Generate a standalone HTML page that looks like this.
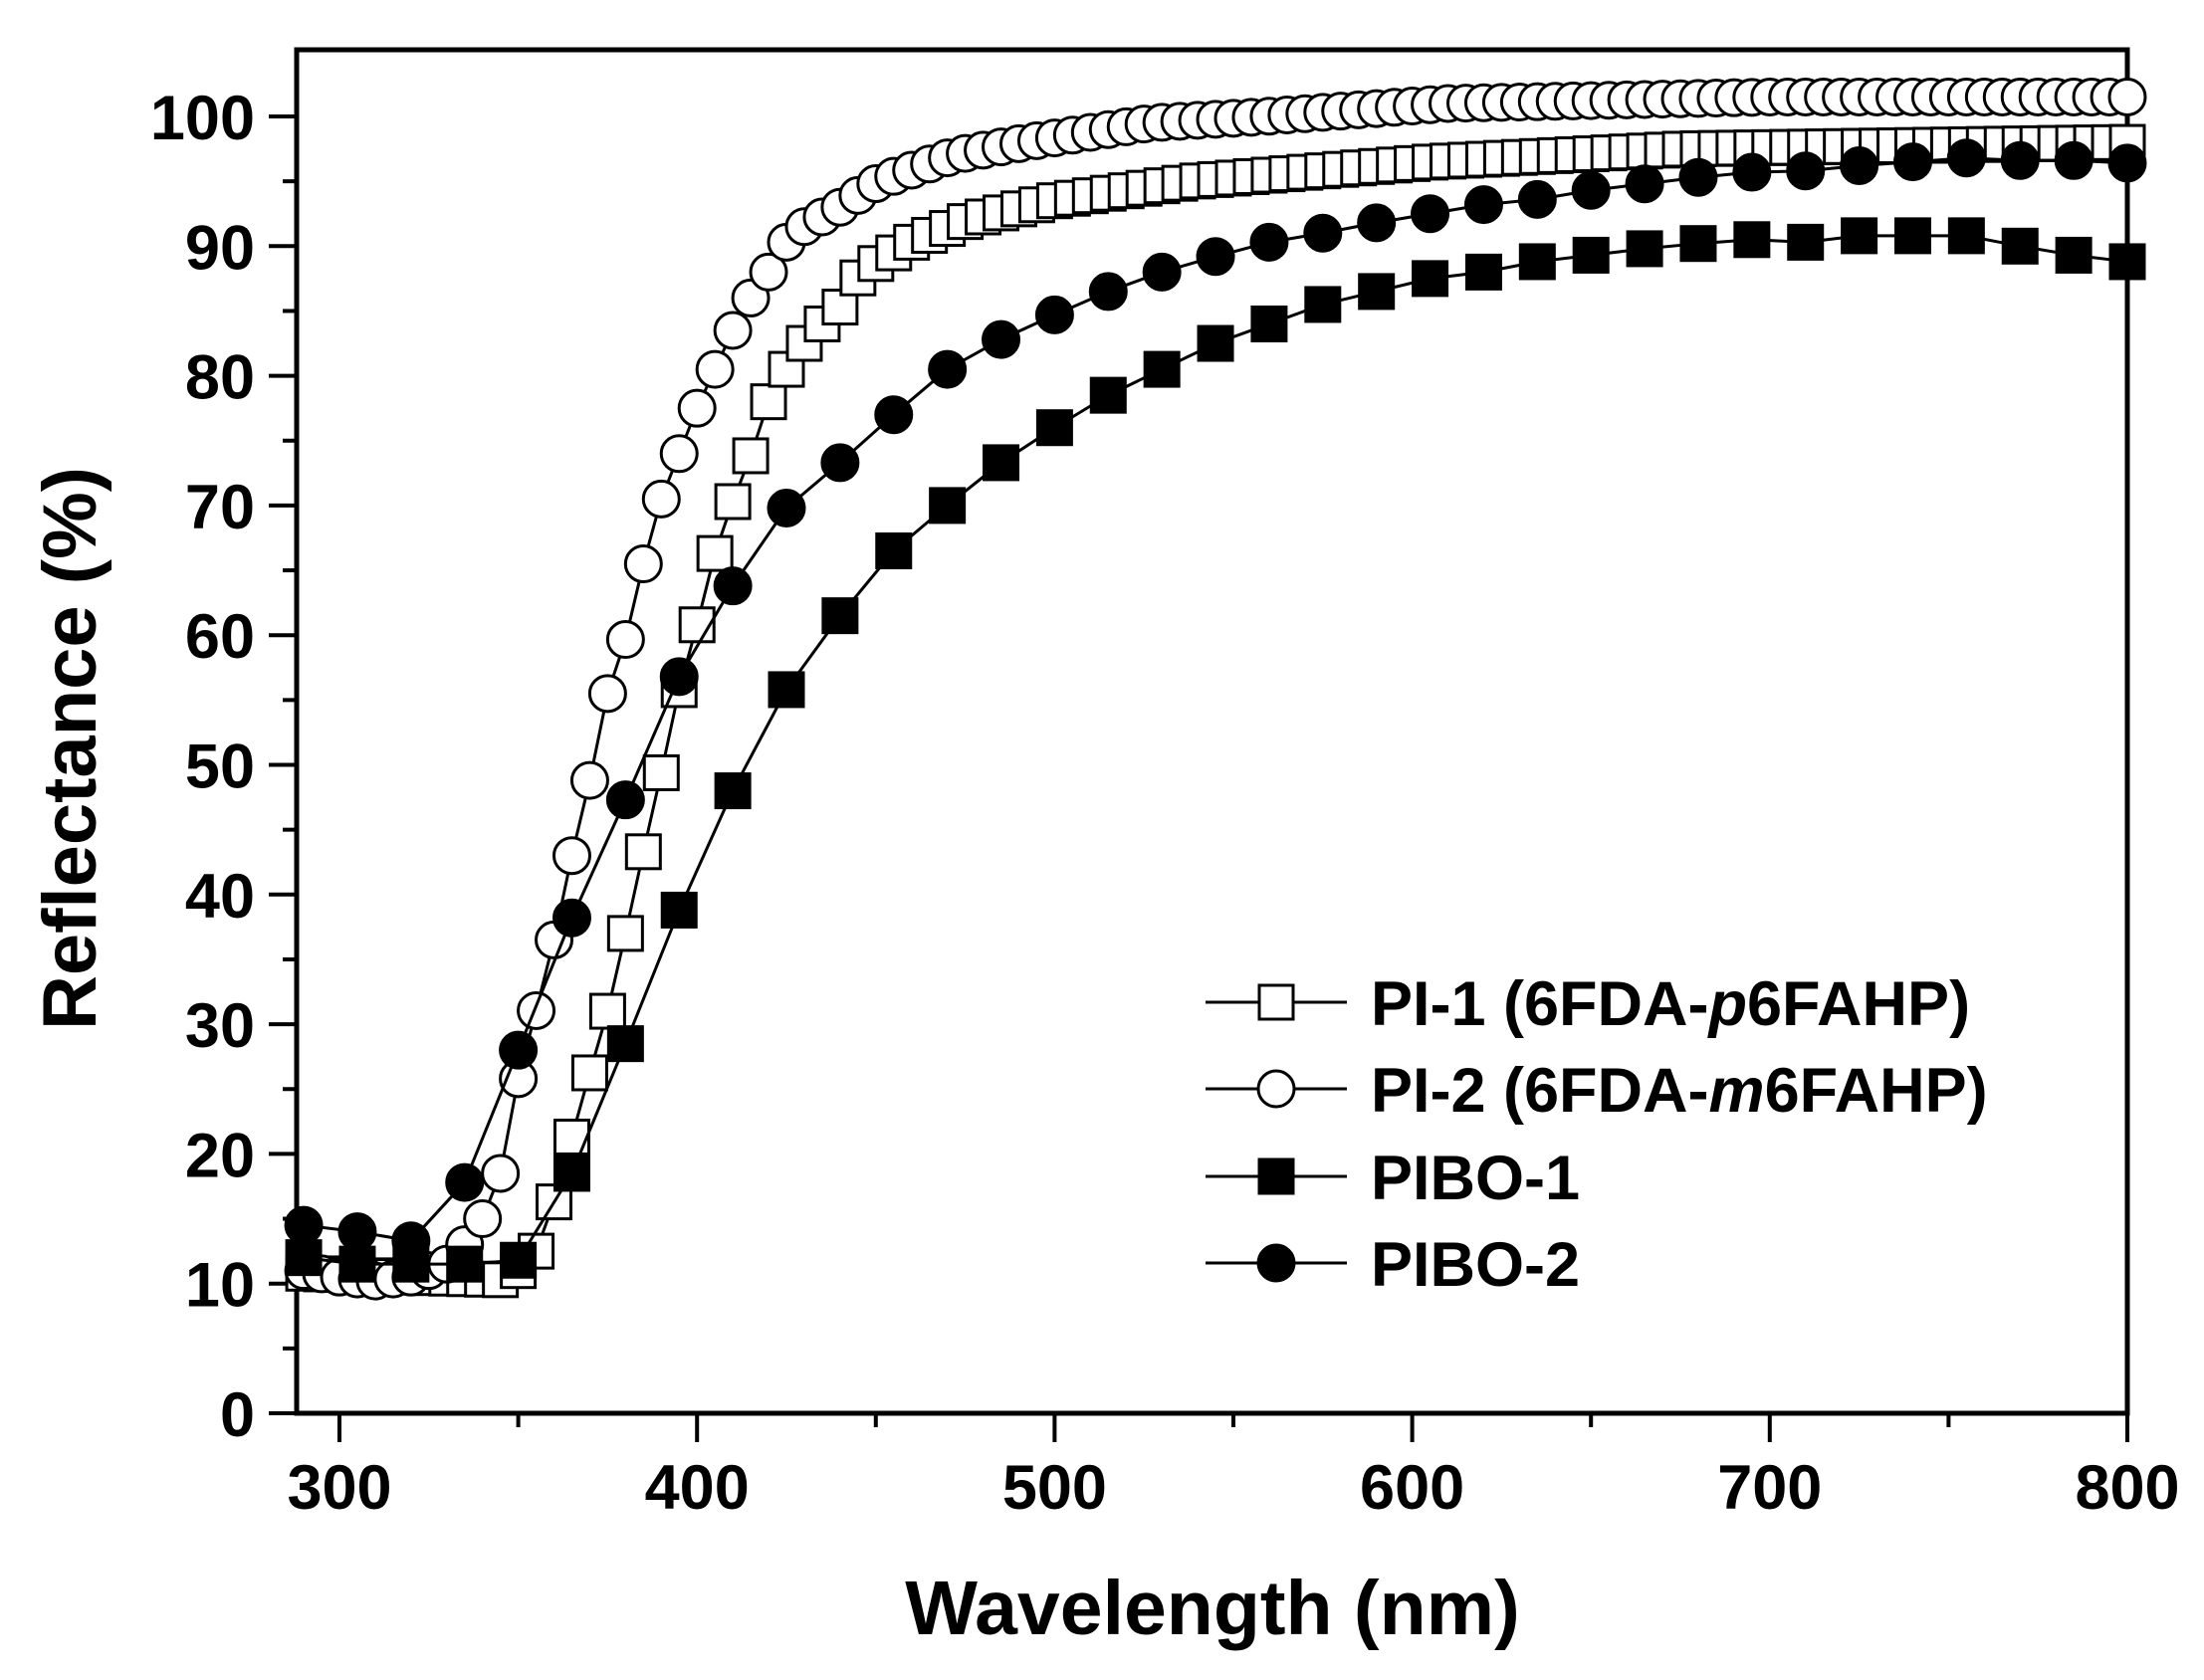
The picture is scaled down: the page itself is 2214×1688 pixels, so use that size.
<!DOCTYPE html>
<html><head><meta charset="utf-8"><style>
body{margin:0;background:#fff;width:2214px;height:1683px;overflow:hidden}
text{font-family:"Liberation Sans",Arial,sans-serif;font-weight:bold;fill:#000}
</style></head><body>
<svg id="s" width="2214" height="1683" xmlns="http://www.w3.org/2000/svg">
<rect x="298" y="50" width="1839" height="1370" fill="none" stroke="#000" stroke-width="5"/>
<g id="ax"></g>
<text x="1218" y="1642" font-size="77" text-anchor="middle">Wavelength (nm)</text>
<text transform="translate(96,752) rotate(-90)" font-size="76" text-anchor="middle">Reflectance (%)</text>
<g id="data"></g>
<g id="leg" font-size="63">
<text x="1377" y="1030">PI-1 (6FDA-<tspan font-style="italic">p</tspan>6FAHP)</text>
<text x="1377" y="1117">PI-2 (6FDA-<tspan font-style="italic">m</tspan>6FAHP)</text>
<text x="1377" y="1205">PIBO-1</text>
<text x="1377" y="1292">PIBO-2</text>
</g>
</svg>
<script>
const NS="http://www.w3.org/2000/svg";
function X(n){return 341+(n-300)*3.592}
function Y(v){return 1420-v*13.03}
function el(p,t,a){const e=document.createElementNS(NS,t);for(const k in a)e.setAttribute(k,a[k]);p.appendChild(e);return e}
const ax=document.getElementById('ax');
for(let n=300;n<=800;n+=50){const maj=n%100==0;el(ax,'line',{x1:X(n),x2:X(n),y1:1420,y2:1420+(maj?29:14),stroke:'#000','stroke-width':4});
 if(maj){const t=el(ax,'text',{x:X(n),y:1516,'font-size':63,'text-anchor':'middle'});t.textContent=n;}}
for(let v=0;v<=100;v+=5){const maj=v%10==0;el(ax,'line',{x1:298,x2:298-(maj?28:14),y1:Y(v),y2:Y(v),stroke:'#000','stroke-width':4});
 if(maj){const t=el(ax,'text',{x:256,y:Y(v)+23,'font-size':63,'text-anchor':'end'});t.textContent=v;}}
function interp(k,n){for(let i=0;i<k.length-1;i++){if(n<=k[i+1][0]){const a=k[i],b=k[i+1];return a[1]+(b[1]-a[1])*(n-a[0])/(b[0]-a[0]);}}return k[k.length-1][1]}
const pibo1=[[290,12],[305,11.5],[320,11.5],[335,11.5],[350,11.8],[365,18.5],[380,28.5],[395,38.8],[410,48],[425,55.8],[440,61.5],[455,66.5],[470,70],[485,73.3],[500,76],[515,78.5],[530,80.5],[545,82.5],[560,84],[575,85.5],[590,86.5],[605,87.5],[620,88],[635,88.8],[650,89.3],[665,89.8],[680,90.2],[695,90.5],[710,90.3],[725,90.8],[740,90.8],[755,90.8],[770,90],[785,89.3],[800,88.8]];
const pibo2=[[290,14.5],[305,14],[320,13.3],[335,17.8],[350,28],[365,38.2],[380,47.3],[395,56.8],[410,63.8],[425,69.8],[440,73.3],[455,77],[470,80.5],[485,82.8],[500,84.7],[515,86.5],[530,88],[545,89.2],[560,90.3],[575,91],[590,91.8],[605,92.5],[620,93.2],[635,93.6],[650,94.3],[665,94.8],[680,95.3],[695,95.7],[710,95.8],[725,96.2],[740,96.5],[755,96.8],[770,96.6],[785,96.6],[800,96.4]];
const pi1=[[290,10.8],[320,10.5],[345,10.3],[350,11],[355,12.5],[360,16.3],[364,20.3],[369,25.3],[375,31],[380,37],[385,43.3],[390.5,50],[395,55.8],[400.5,61.3],[405,66.3],[410,70.3],[414.6,73.5],[420,78],[425,80.5],[430,82.5],[435,84],[440,85.3],[446,88],[460,90.3],[476,92],[500,93.5],[539,95],[606,96.5],[677,97.5],[800,98]];
const pi2=[[290,11],[300,10.5],[310,10.2],[320,10.5],[330,11.5],[335,13],[340,15],[345,18.5],[350,25.8],[354.5,30.5],[360,36.5],[365,43],[370,48.8],[375,55.5],[381,60.5],[385,65.5],[390,70.5],[395,74],[400,77.5],[405,80.5],[410,83.5],[415,86],[420,88],[425,90.3],[430,91.5],[440,93],[451,95],[472,97],[492,98],[527,99.5],[559,100],[610,101],[700,101.5],[800,101.5]];
const d=document.getElementById('data');
function series(k,step,type,fill){
 const pts=[];for(let n=290;n<=800.01;n+=step)pts.push([X(n),Y(interp(k,n))]);
 el(d,'polyline',{points:pts.map(p=>p.join(',')).join(' '),fill:'none',stroke:'#000','stroke-width':3});
 pts.forEach(p=>marker(p[0],p[1],type,fill));}
function marker(x,y,type,fill){
 if(type=='s')el(d,'rect',{x:x-17,y:y-17,width:34,height:34,fill:fill,stroke:'#000','stroke-width':3});
 else el(d,'circle',{cx:x,cy:y,r:18,fill:fill,stroke:'#000','stroke-width':3});}
series(pi1,5,'s','#fff');
series(pi2,5,'c','#fff');
series(pibo1,15,'s','#000');
series(pibo2,15,'c','#000');
const rows=[[1007,'s','#fff'],[1094,'c','#fff'],[1182,'s','#000'],[1269,'c','#000']];
rows.forEach(r=>{el(d,'line',{x1:1211,x2:1353,y1:r[0],y2:r[0],stroke:'#000','stroke-width':3});marker(1282,r[0],r[1],r[2]);});
</script>
</body></html>
